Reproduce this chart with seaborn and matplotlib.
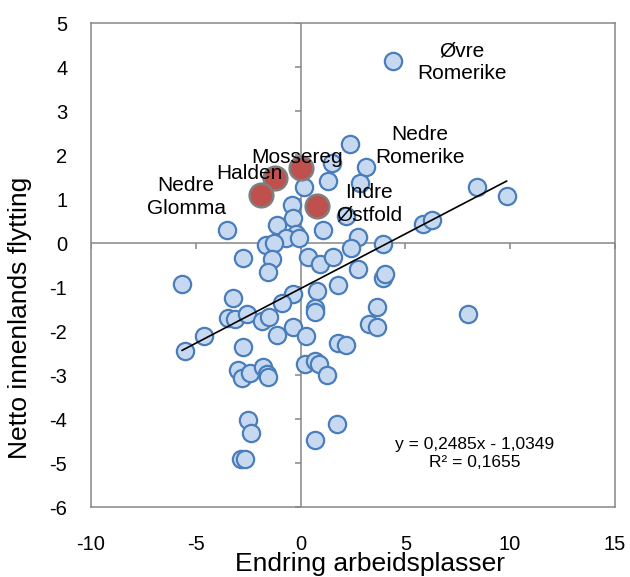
import numpy as np
import pandas as pd
import seaborn as sns
import matplotlib.pyplot as plt
from matplotlib.markers import TICKLEFT, TICKDOWN

# Endring arbeidsplasser (x) og netto innenlands flytting (y) for regionene
endring = [4.40, 2.35, 1.49, 3.11, 1.30, 2.83, 0.16, -0.41, -0.37, 1.06,
           2.16, -3.51, -1.13, -0.22, -0.70, -0.08, -1.65, -1.27, 2.73, 3.92,
           5.83, 6.26, 8.41, 9.84, -2.75, -1.37, -1.56, -5.66, 0.35, 0.92,
           1.54, 2.40, 2.73, 3.92, 4.02, 1.78, 0.78, 0.68, 0.68, -0.37,
           -0.89, -3.23, -3.47, -3.13, -2.56, -1.85, -1.51, -4.61, -5.52, -2.75,
           -1.13, -0.37, 0.25, 3.64, 3.26, 3.64, 7.98, -2.99, -2.80, -2.42,
           -1.80, -1.61, -1.56, 0.21, 0.68, 0.87, 1.25, 1.78, 2.16, -2.51,
           -2.37, -2.85, -2.66, 0.68, 1.73]
flytting = [4.14, 2.25, 1.82, 1.73, 1.41, 1.36, 1.27, 0.86, 0.57, 0.30,
            0.61, 0.30, 0.41, 0.20, 0.11, 0.11, -0.05, 0.00, 0.14, -0.02,
            0.43, 0.52, 1.27, 1.07, -0.34, -0.36, -0.66, -0.93, -0.32, -0.48,
            -0.32, -0.11, -0.59, -0.80, -0.70, -0.95, -1.09, -1.48, -1.57, -1.16,
            -1.36, -1.25, -1.70, -1.73, -1.61, -1.77, -1.68, -2.11, -2.45, -2.36,
            -2.09, -1.91, -2.11, -1.45, -1.84, -1.91, -1.61, -2.89, -3.07, -2.95,
            -2.82, -2.98, -3.05, -2.75, -2.68, -2.75, -3.00, -2.27, -2.32, -4.02,
            -4.32, -4.91, -4.91, -4.48, -4.11]

# Østfold-regionene (røde punkter)
ostfold_navn = ["Mossereg", "Halden", "Nedre Glomma", "Indre Østfold"]
ostfold_endring = [0.01, -1.23, -1.89, 0.78]
ostfold_flytting = [1.70, 1.48, 1.09, 0.84]

x_ticks = list(range(-10, 16, 5))
y_ticks = list(range(-6, 6))

# lineær trendlinje (Excel)
stigning = 0.2485
konstant = -1.0349
r2 = 0.1655

df = pd.DataFrame({"endring": endring, "flytting": flytting})
df_ost = pd.DataFrame({"endring": ostfold_endring, "flytting": ostfold_flytting,
                       "navn": ostfold_navn})

sns.set_style("white")
plt.rcParams['font.family'] = ['Liberation Sans', 'DejaVu Sans']
plt.rcParams['axes.unicode_minus'] = False
for key in ['text.color', 'axes.labelcolor', 'xtick.labelcolor', 'ytick.labelcolor']:
    plt.rcParams[key] = 'black'

grey = "#868686"
fig, ax = plt.subplots(figsize=(6.3, 5.77), dpi=100)
fig.subplots_adjust(left=0.1444, right=0.976, top=0.960, bottom=0.1213)

sns.scatterplot(data=df, x="endring", y="flytting", ax=ax, s=155,
                color="#C6D9F0", edgecolor="#4A7EBB", linewidth=1.6, zorder=3)
sns.scatterplot(data=df_ost, x="endring", y="flytting", ax=ax, s=290,
                color="#C0504D", edgecolor="#7F7F7F", linewidth=1.8, zorder=4)

alle_x = np.array(endring + ostfold_endring)
xs = np.array([alle_x.min(), alle_x.max()])
ax.plot(xs, stigning * xs + konstant, color="black", lw=1.2, zorder=5)

ax.set_xlim(-10, 15)
ax.set_ylim(-6, 5)
ax.set_xticks(x_ticks)
ax.set_yticks(y_ticks)
ax.tick_params(length=0, labelsize=14.5, labelcolor="black")
ax.tick_params(axis="y", pad=17)
ax.tick_params(axis="x", pad=20)
for sp in ax.spines.values():
    sp.set_color(grey)
    sp.set_linewidth(1.1)

# akser gjennom origo med små tikk
ax.axhline(0, color=grey, lw=1.1, zorder=1)
ax.axvline(0, color=grey, lw=1.1, zorder=1)
ax.plot(np.zeros(len(y_ticks)), y_ticks, ls="", marker=TICKLEFT, ms=4,
        mew=1.1, color=grey, zorder=1)
ax.plot(x_ticks, np.zeros(len(x_ticks)), ls="", marker=TICKDOWN, ms=4,
        mew=1.1, color=grey, zorder=1)

ax.set_xlabel("Endring arbeidsplasser", fontsize=19, color="black")
ax.set_ylabel("Netto innenlands flytting", fontsize=19, color="black")
ax.xaxis.set_label_coords(0.533, -0.093)
ax.yaxis.set_label_coords(-0.112, 0.39)

etiketter = [("Øvre\nRomerike", 7.71, 4.11), ("Nedre\nRomerike", 5.69, 2.2),
             ("Indre\nØstfold", 3.26, 0.89), ("Mossereg", -0.18, 1.95),
             ("Halden", -2.42, 1.57), ("Nedre\nGlomma", -5.46, 1.05)]
for tekst, tx, ty in etiketter:
    ax.text(tx, ty, tekst, ha="center", va="center", fontsize=15,
            linespacing=1.25, color="black", zorder=6)

likning = (f"y = {stigning:.4f}x - {abs(konstant):.4f}\n"
           f"R² = {r2:.4f}").replace(".", ",")
ax.text(8.3, -4.78, likning, ha="center", va="center", fontsize=12.5,
        linespacing=1.3, color="black", zorder=6)

fig.savefig("out.png", dpi=100)
